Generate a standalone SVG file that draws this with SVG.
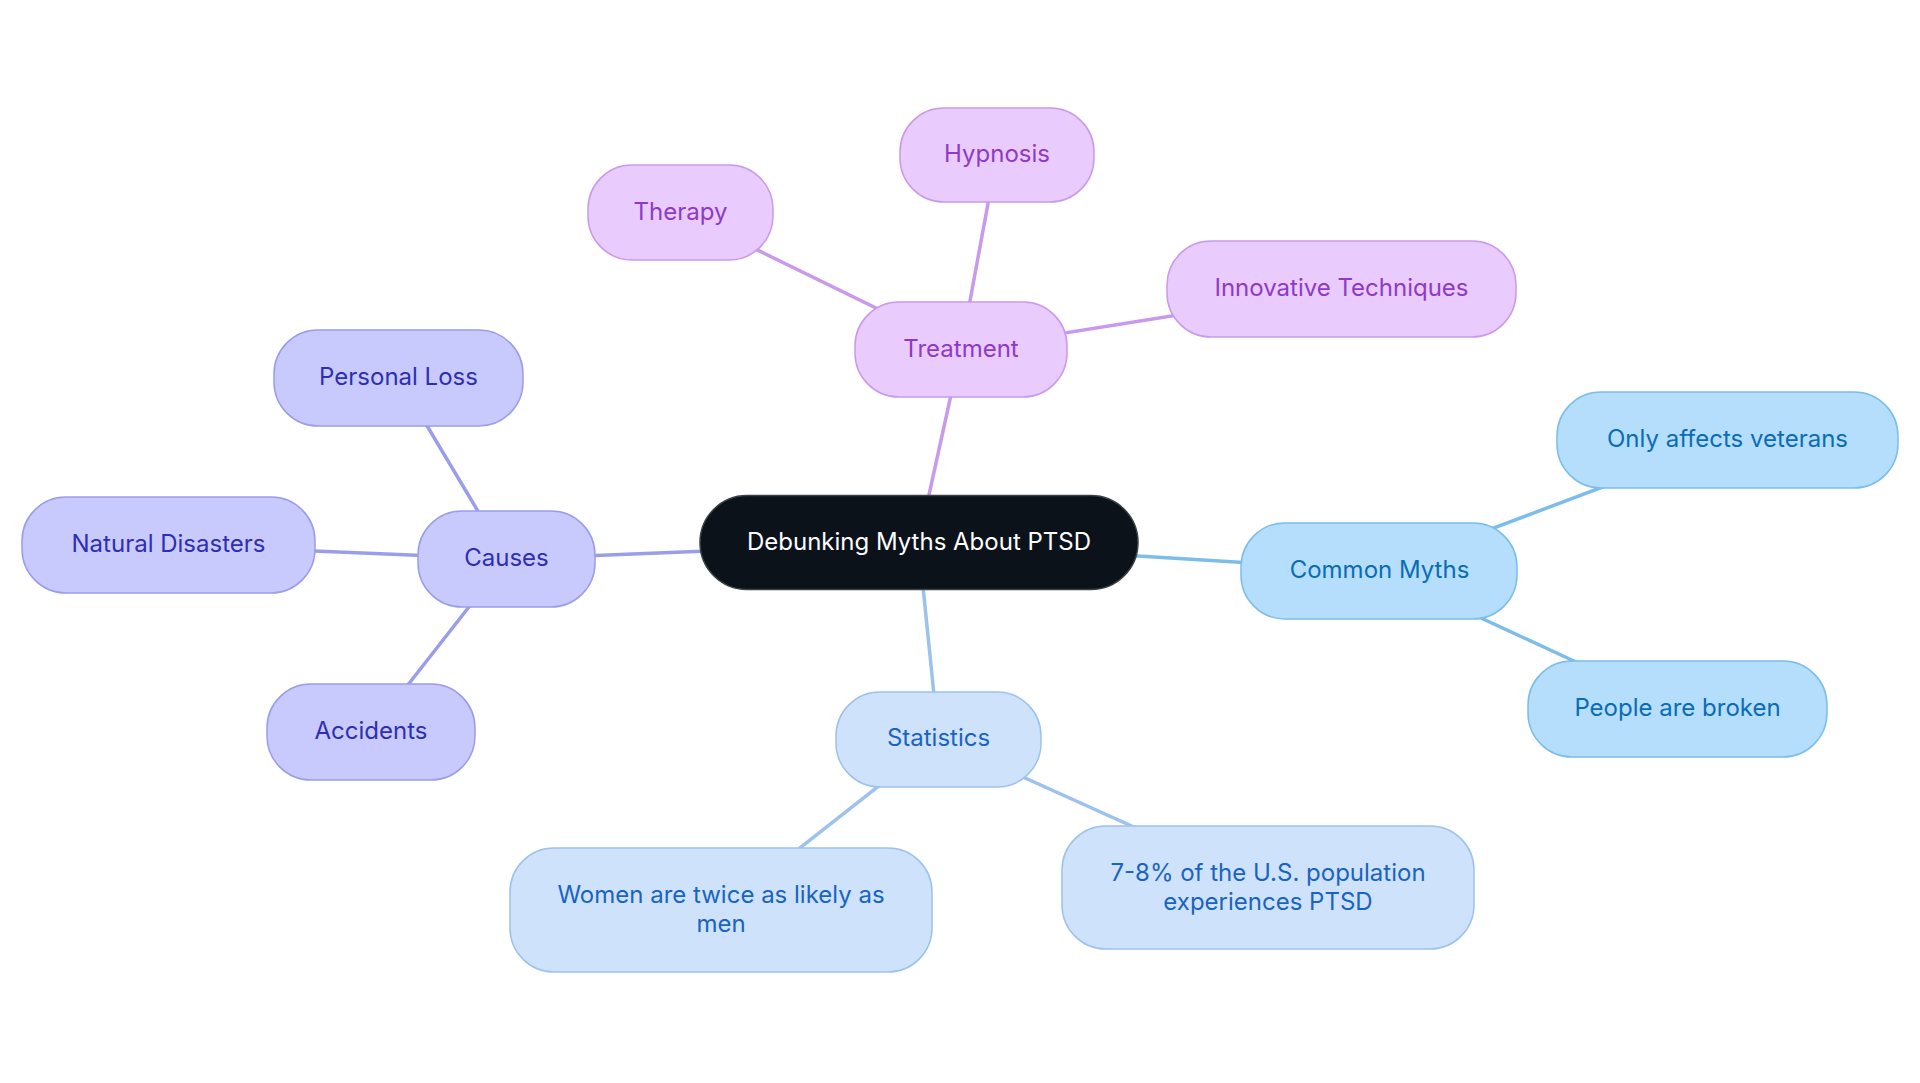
<svg xmlns="http://www.w3.org/2000/svg" width="1920" height="1083" viewBox="0 0 1920 1083">
<style>
text{font-family:Inter,"Noto Sans","Liberation Sans",sans-serif;font-size:24px;text-anchor:middle;dominant-baseline:central}
.l{fill:none;stroke-width:3.5}
.n rect{stroke-width:1.5}
.n text{transform:translateY(-1.5px)}
.tr rect{fill:#EACBFD;stroke:#C99AEA}.tr text{fill:#8E3AC6}
.cm rect{fill:#B4DEFC;stroke:#7CBDEA}.cm text{fill:#0B6CB4}
.st rect{fill:#CEE3FB;stroke:#9DC2EC}.st text{fill:#1A63C0}
.ca rect{fill:#C8CAFD;stroke:#9A9DEA}.ca text{fill:#2E2FB0}
</style>
<rect width="1920" height="1083" fill="#fff"/>
<g id="connectors">
<line class="l" stroke="#C99AEA" x1="918.5" y1="542.5" x2="961" y2="349.5"/>
<line class="l" stroke="#9A9DEA" x1="918.5" y1="542.5" x2="506.5" y2="559"/>
<line class="l" stroke="#7CBDEA" x1="918.5" y1="542.5" x2="1379.5" y2="571"/>
<line class="l" stroke="#9DC2EC" x1="918.5" y1="542.5" x2="938.5" y2="739"/>
<line class="l" stroke="#C99AEA" x1="961" y1="349.5" x2="680.5" y2="212.5"/>
<line class="l" stroke="#C99AEA" x1="961" y1="349.5" x2="997" y2="155"/>
<line class="l" stroke="#C99AEA" x1="961" y1="349.5" x2="1341.5" y2="289"/>
<line class="l" stroke="#9A9DEA" x1="506.5" y1="559" x2="398.5" y2="378"/>
<line class="l" stroke="#9A9DEA" x1="506.5" y1="559" x2="168.5" y2="545"/>
<line class="l" stroke="#9A9DEA" x1="506.5" y1="559" x2="371" y2="732"/>
<line class="l" stroke="#7CBDEA" x1="1379.5" y1="571" x2="1727.5" y2="440"/>
<line class="l" stroke="#7CBDEA" x1="1379.5" y1="571" x2="1677.5" y2="709"/>
<line class="l" stroke="#9DC2EC" x1="938.5" y1="739" x2="721" y2="910"/>
<line class="l" stroke="#9DC2EC" x1="938.5" y1="739" x2="1268" y2="887.5"/>
</g>
<g id="root" class="n"><rect x="700" y="495.5" width="438" height="94" rx="47" fill="#0C121A" stroke="#3A4048"/><text x="919" y="542.5" fill="#fff">Debunking Myths About PTSD</text></g>
<g id="treatment" class="n tr"><rect x="855" y="302" width="212" height="95" rx="44"/><text x="961" y="349.5">Treatment</text></g>
<g id="therapy" class="n tr"><rect x="588" y="165" width="185" height="95" rx="44"/><text x="680.5" y="212.5">Therapy</text></g>
<g id="hypnosis" class="n tr"><rect x="900" y="108" width="194" height="94" rx="44"/><text x="997" y="155">Hypnosis</text></g>
<g id="innovative" class="n tr"><rect x="1167" y="241" width="349" height="96" rx="44"/><text x="1341.5" y="289">Innovative Techniques</text></g>
<g id="causes" class="n ca"><rect x="418" y="511" width="177" height="96" rx="44"/><text x="506.5" y="559">Causes</text></g>
<g id="personal-loss" class="n ca"><rect x="274" y="330" width="249" height="96" rx="44"/><text x="398.5" y="378">Personal Loss</text></g>
<g id="natural-disasters" class="n ca"><rect x="22" y="497" width="293" height="96" rx="44"/><text x="168.5" y="545">Natural Disasters</text></g>
<g id="accidents" class="n ca"><rect x="267" y="684" width="208" height="96" rx="44"/><text x="371" y="732">Accidents</text></g>
<g id="common-myths" class="n cm"><rect x="1241" y="523" width="276" height="96" rx="44"/><text x="1379.5" y="571">Common Myths</text></g>
<g id="only-veterans" class="n cm"><rect x="1557" y="392" width="341" height="96" rx="44"/><text x="1727.5" y="440">Only affects veterans</text></g>
<g id="people-broken" class="n cm"><rect x="1528" y="661" width="299" height="96" rx="44"/><text x="1677.5" y="709">People are broken</text></g>
<g id="statistics" class="n st"><rect x="836" y="692" width="205" height="95" rx="44"/><text x="938.5" y="739">Statistics</text></g>
<g id="women" class="n st"><rect x="510" y="848" width="422" height="124" rx="44"/><text x="721" y="910"><tspan x="721" dy="-14.5">Women are twice as likely as</tspan><tspan x="721" dy="29">men</tspan></text></g>
<g id="population" class="n st"><rect x="1062" y="826" width="412" height="123" rx="44"/><text x="1268" y="887.5"><tspan x="1268" dy="-14.5">7-8% of the U.S. population</tspan><tspan x="1268" dy="29">experiences PTSD</tspan></text></g>
</svg>
